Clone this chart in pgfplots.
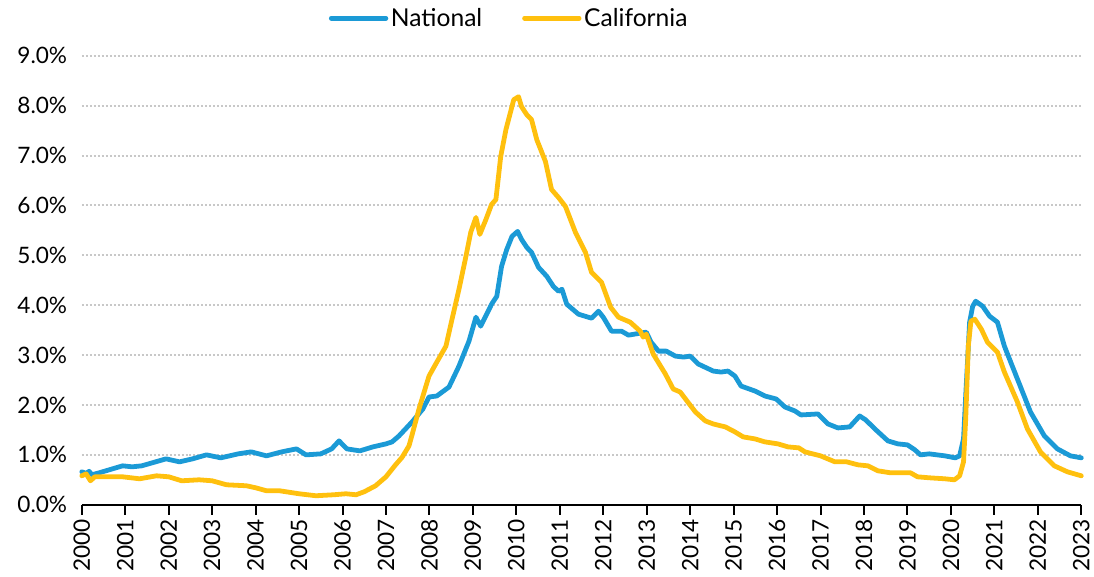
\documentclass[border=0pt]{standalone}
\usepackage{fontspec}
\setmainfont{Lato}
\usepackage{pgfplots}
\pgfplotsset{compat=1.18}

\definecolor{natblue}{RGB}{27,154,214}
\definecolor{cayellow}{RGB}{255,192,14}
\definecolor{gridgray}{RGB}{200,200,200}

\begin{document}
\begin{tikzpicture}
\begin{axis}[
    scale only axis,
    width=751.5pt, height=337.5pt,
    xmin=2000, xmax=2023,
    ymin=0, ymax=9,
    clip=false,
    axis x line*=bottom,
    axis y line*=left,
    y axis line style={draw=none},
    x axis line style={line width=1.5pt, black},
    xtick={2000,2001,...,2023},
    ytick={0,1,...,9},
    tick align=outside,
    major x tick style={line width=1.5pt, black},
    major tick length=7.5pt,
    major y tick style={draw=none},
    ymajorgrids,
    y grid style={gridgray, line width=1.5pt, dash pattern=on 1.5pt off 1.5pt},
    xticklabel style={rotate=90, anchor=east, font=\fontsize{17}{20}\selectfont},
    yticklabel style={font=\fontsize{17}{20}\selectfont},
    xticklabel={\pgfmathprintnumber[1000 sep={},fixed,precision=0]{\tick}},
    yticklabel={\pgfmathprintnumber[fixed,fixed zerofill,precision=1]{\tick}\%},
    /pgf/number format/assume math mode=true,
    legend columns=2,
    legend style={at={(0.428,1.084)}, anchor=center, draw=none, fill=none,
        font=\fontsize{18.5}{22}\selectfont,
        /tikz/every even column/.append style={column sep=28pt}},
    legend image code/.code={\draw[#1] (0pt,0pt) -- (41pt,0pt);},
]
\addplot[natblue, line width=3.6pt, line join=round, line cap=round] coordinates {
(2000.00,0.66) (2000.10,0.63) (2000.17,0.67) (2000.23,0.60) (2000.40,0.64)
(2000.94,0.78) (2001.16,0.76) (2001.38,0.78) (2001.94,0.92) (2002.25,0.86)
(2002.55,0.92) (2002.87,1.00) (2003.20,0.94) (2003.60,1.02) (2003.90,1.06)
(2004.25,0.98) (2004.60,1.06) (2004.94,1.12) (2005.16,1.00) (2005.50,1.02)
(2005.75,1.12) (2005.92,1.28) (2006.10,1.12) (2006.40,1.08) (2006.70,1.16)
(2007.00,1.22) (2007.14,1.26) (2007.30,1.38) (2007.60,1.66) (2007.85,1.92)
(2007.99,2.16) (2008.17,2.18) (2008.45,2.36) (2008.68,2.78) (2008.91,3.28)
(2009.07,3.76) (2009.18,3.58) (2009.43,4.02) (2009.55,4.18) (2009.66,4.78)
(2009.78,5.12) (2009.90,5.38) (2010.03,5.48) (2010.12,5.32) (2010.24,5.16)
(2010.35,5.06) (2010.51,4.76) (2010.70,4.58) (2010.85,4.38) (2010.97,4.28)
(2011.05,4.32) (2011.16,4.02) (2011.43,3.82) (2011.73,3.74) (2011.89,3.88)
(2012.00,3.76) (2012.19,3.48) (2012.42,3.48) (2012.58,3.40) (2012.99,3.46)
(2013.10,3.26) (2013.27,3.08) (2013.45,3.08) (2013.66,2.98) (2013.85,2.96)
(2014.00,2.98) (2014.19,2.82) (2014.53,2.68) (2014.71,2.66) (2014.87,2.68)
(2015.03,2.58) (2015.17,2.38) (2015.49,2.28) (2015.72,2.18) (2015.98,2.12)
(2016.18,1.96) (2016.41,1.88) (2016.55,1.80) (2016.94,1.82) (2017.17,1.62)
(2017.40,1.54) (2017.67,1.56) (2017.90,1.78) (2018.04,1.70) (2018.25,1.52)
(2018.55,1.28) (2018.78,1.22) (2019.00,1.20) (2019.17,1.10) (2019.30,1.00)
(2019.50,1.02) (2019.86,0.98) (2020.10,0.94) (2020.20,0.98) (2020.29,1.32)
(2020.34,2.18) (2020.43,3.66) (2020.50,3.98) (2020.57,4.08) (2020.73,3.98)
(2020.89,3.78) (2021.07,3.66) (2021.23,3.18) (2021.53,2.52) (2021.83,1.86)
(2022.15,1.38) (2022.45,1.12) (2022.75,0.98) (2023.00,0.94)
};
\addlegendentry{National}
\addplot[cayellow, line width=3.6pt, line join=round, line cap=round] coordinates {
(2000.00,0.58) (2000.10,0.62) (2000.20,0.48) (2000.30,0.56) (2000.94,0.56)
(2001.33,0.52) (2001.72,0.58) (2002.00,0.56) (2002.30,0.48) (2002.70,0.50)
(2003.00,0.48) (2003.33,0.40) (2003.79,0.38) (2004.00,0.34) (2004.25,0.28)
(2004.55,0.28) (2005.00,0.22) (2005.39,0.18) (2005.80,0.20) (2006.08,0.22)
(2006.31,0.20) (2006.50,0.26) (2006.76,0.38) (2007.00,0.56) (2007.22,0.80)
(2007.37,0.95) (2007.53,1.18) (2007.60,1.40) (2007.76,1.92) (2007.99,2.58)
(2008.17,2.86) (2008.38,3.18) (2008.52,3.72) (2008.68,4.32) (2008.84,4.98)
(2008.95,5.46) (2009.07,5.76) (2009.16,5.42) (2009.30,5.72) (2009.43,6.02)
(2009.53,6.12) (2009.64,6.98) (2009.76,7.52) (2009.94,8.12) (2010.05,8.18)
(2010.12,7.98) (2010.24,7.82) (2010.35,7.72) (2010.47,7.32) (2010.67,6.88)
(2010.81,6.32) (2010.97,6.16) (2011.13,5.98) (2011.36,5.46) (2011.59,5.06)
(2011.73,4.66) (2011.96,4.46) (2012.17,3.96) (2012.35,3.76) (2012.62,3.66)
(2012.85,3.48) (2012.92,3.36) (2012.99,3.42) (2013.15,3.02) (2013.43,2.62)
(2013.61,2.32) (2013.77,2.26) (2014.12,1.86) (2014.35,1.68) (2014.53,1.62)
(2014.81,1.56) (2015.03,1.46) (2015.22,1.36) (2015.49,1.32) (2015.72,1.26)
(2016.02,1.22) (2016.25,1.16) (2016.50,1.14) (2016.64,1.06) (2017.00,0.98)
(2017.33,0.86) (2017.60,0.86) (2017.86,0.80) (2018.09,0.78) (2018.32,0.68)
(2018.61,0.64) (2019.07,0.64) (2019.23,0.56) (2019.50,0.54) (2019.86,0.52)
(2020.08,0.50) (2020.20,0.58) (2020.29,0.86) (2020.34,1.72) (2020.40,3.18)
(2020.46,3.68) (2020.55,3.72) (2020.70,3.52) (2020.84,3.26) (2021.07,3.06)
(2021.23,2.66) (2021.53,2.06) (2021.76,1.52) (2022.06,1.06) (2022.38,0.78)
(2022.68,0.66) (2023.00,0.58)
};
\addlegendentry{California}
\path (rel axis cs:-0.0818,-0.1556) rectangle (rel axis cs:1.0100,1.1244);
\end{axis}
\end{tikzpicture}
\end{document}
